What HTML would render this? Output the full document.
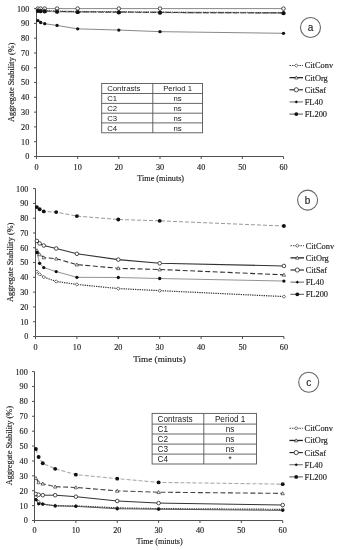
<!DOCTYPE html>
<html><head><meta charset="utf-8"><title>Aggregate Stability</title>
<style>
html,body{margin:0;padding:0;background:#fff;}
body{width:338px;height:550px;overflow:hidden;}
svg{display:block;filter:blur(0.3px);}
.tk{font-family:"Liberation Serif", serif;font-size:8.2px;fill:#222;stroke:#222;stroke-width:0.15px;}
.tb{font-family:"Liberation Sans", sans-serif;font-size:7.6px;fill:#1a1a1a;}
.lbl{font-family:"Liberation Sans", sans-serif;font-size:10px;fill:#222;stroke:#222;stroke-width:0.15px;}
</style></head>
<body>
<svg width="338" height="550" viewBox="0 0 338 550">
<rect width="338" height="550" fill="#fff"/>
<path d="M36.50 8.60V156.50H283.50" fill="none" stroke="#505050" stroke-width="1"/>
<path d="M34.00 156.50H36.50" stroke="#505050" stroke-width="1"/>
<text x="29.30" y="159.40" text-anchor="end" class="tk">0</text>
<path d="M34.00 141.71H36.50" stroke="#505050" stroke-width="1"/>
<text x="29.30" y="144.61" text-anchor="end" class="tk">10</text>
<path d="M34.00 126.92H36.50" stroke="#505050" stroke-width="1"/>
<text x="29.30" y="129.82" text-anchor="end" class="tk">20</text>
<path d="M34.00 112.13H36.50" stroke="#505050" stroke-width="1"/>
<text x="29.30" y="115.03" text-anchor="end" class="tk">30</text>
<path d="M34.00 97.34H36.50" stroke="#505050" stroke-width="1"/>
<text x="29.30" y="100.24" text-anchor="end" class="tk">40</text>
<path d="M34.00 82.55H36.50" stroke="#505050" stroke-width="1"/>
<text x="29.30" y="85.45" text-anchor="end" class="tk">50</text>
<path d="M34.00 67.76H36.50" stroke="#505050" stroke-width="1"/>
<text x="29.30" y="70.66" text-anchor="end" class="tk">60</text>
<path d="M34.00 52.97H36.50" stroke="#505050" stroke-width="1"/>
<text x="29.30" y="55.87" text-anchor="end" class="tk">70</text>
<path d="M34.00 38.18H36.50" stroke="#505050" stroke-width="1"/>
<text x="29.30" y="41.08" text-anchor="end" class="tk">80</text>
<path d="M34.00 23.39H36.50" stroke="#505050" stroke-width="1"/>
<text x="29.30" y="26.29" text-anchor="end" class="tk">90</text>
<path d="M34.00 8.60H36.50" stroke="#505050" stroke-width="1"/>
<text x="29.30" y="11.50" text-anchor="end" class="tk">100</text>
<path d="M36.50 156.50V159.00" stroke="#505050" stroke-width="1"/>
<text x="36.50" y="169.50" text-anchor="middle" class="tk">0</text>
<path d="M77.67 156.50V159.00" stroke="#505050" stroke-width="1"/>
<text x="77.67" y="169.50" text-anchor="middle" class="tk">10</text>
<path d="M118.83 156.50V159.00" stroke="#505050" stroke-width="1"/>
<text x="118.83" y="169.50" text-anchor="middle" class="tk">20</text>
<path d="M160.00 156.50V159.00" stroke="#505050" stroke-width="1"/>
<text x="160.00" y="169.50" text-anchor="middle" class="tk">30</text>
<path d="M201.17 156.50V159.00" stroke="#505050" stroke-width="1"/>
<text x="201.17" y="169.50" text-anchor="middle" class="tk">40</text>
<path d="M242.33 156.50V159.00" stroke="#505050" stroke-width="1"/>
<text x="242.33" y="169.50" text-anchor="middle" class="tk">50</text>
<path d="M283.50 156.50V159.00" stroke="#505050" stroke-width="1"/>
<text x="283.50" y="169.50" text-anchor="middle" class="tk">60</text>
<text transform="translate(13.90 82.30) rotate(-90)" text-anchor="middle" class="tk" style="font-size:8.3px">Aggregate Stability (%)</text>
<text x="160.70" y="180.50" text-anchor="middle" class="tk" style="font-size:8.2px">Time (minuts)</text>
<polyline points="37.86,8.60 40.62,8.60 44.73,8.60 57.08,8.60 77.67,8.60 118.83,8.60 160.00,8.60 283.50,8.60" fill="none" stroke="#888" stroke-width="1.0"/>
<polyline points="37.86,10.08 40.62,10.37 44.73,10.67 57.08,10.97 77.67,11.41 118.83,11.71 160.00,12.00 283.50,12.59" fill="none" stroke="#555" stroke-width="1.0" stroke-dasharray="1.2,1"/>
<polyline points="37.86,10.52 40.62,10.82 44.73,11.11 57.08,11.41 77.67,11.85 118.83,12.15 160.00,12.45 283.50,12.89" fill="none" stroke="#333" stroke-width="1.2" stroke-dasharray="6,1.5"/>
<polyline points="37.86,10.97 40.62,11.26 44.73,11.56 57.08,11.85 77.67,12.15 118.83,12.45 160.00,12.74 283.50,13.18" fill="none" stroke="#777" stroke-width="0.8" stroke-dasharray="3,1.5,1,1.5"/>
<polyline points="37.86,20.58 40.62,22.50 44.73,23.69 57.08,25.46 77.67,28.86 118.83,30.05 160.00,31.67 283.50,33.30" fill="none" stroke="#888" stroke-width="1.0"/>
<circle cx="37.86" cy="8.60" r="1.8" fill="#fff" stroke="#222" stroke-width="0.8"/>
<circle cx="40.62" cy="8.60" r="1.8" fill="#fff" stroke="#222" stroke-width="0.8"/>
<circle cx="44.73" cy="8.60" r="1.8" fill="#fff" stroke="#222" stroke-width="0.8"/>
<circle cx="57.08" cy="8.60" r="1.8" fill="#fff" stroke="#222" stroke-width="0.8"/>
<circle cx="77.67" cy="8.60" r="1.8" fill="#fff" stroke="#222" stroke-width="0.8"/>
<circle cx="118.83" cy="8.60" r="1.8" fill="#fff" stroke="#222" stroke-width="0.8"/>
<circle cx="160.00" cy="8.60" r="1.8" fill="#fff" stroke="#222" stroke-width="0.8"/>
<circle cx="283.50" cy="8.60" r="1.8" fill="#fff" stroke="#222" stroke-width="0.8"/>
<path d="M37.86 8.38L39.56 10.08L37.86 11.78L36.16 10.08Z" fill="#fff" stroke="#333" stroke-width="0.7"/>
<path d="M40.62 8.67L42.32 10.37L40.62 12.07L38.92 10.37Z" fill="#fff" stroke="#333" stroke-width="0.7"/>
<path d="M44.73 8.97L46.43 10.67L44.73 12.37L43.03 10.67Z" fill="#fff" stroke="#333" stroke-width="0.7"/>
<path d="M57.08 9.27L58.78 10.97L57.08 12.67L55.38 10.97Z" fill="#fff" stroke="#333" stroke-width="0.7"/>
<path d="M77.67 9.71L79.37 11.41L77.67 13.11L75.97 11.41Z" fill="#fff" stroke="#333" stroke-width="0.7"/>
<path d="M118.83 10.01L120.53 11.71L118.83 13.41L117.13 11.71Z" fill="#fff" stroke="#333" stroke-width="0.7"/>
<path d="M160.00 10.30L161.70 12.00L160.00 13.70L158.30 12.00Z" fill="#fff" stroke="#333" stroke-width="0.7"/>
<path d="M283.50 10.89L285.20 12.59L283.50 14.29L281.80 12.59Z" fill="#fff" stroke="#333" stroke-width="0.7"/>
<path d="M37.86 8.82L39.56 11.88L36.16 11.88Z" fill="#fff" stroke="#333" stroke-width="0.7"/>
<path d="M40.62 9.12L42.32 12.18L38.92 12.18Z" fill="#fff" stroke="#333" stroke-width="0.7"/>
<path d="M44.73 9.41L46.43 12.47L43.03 12.47Z" fill="#fff" stroke="#333" stroke-width="0.7"/>
<path d="M57.08 9.71L58.78 12.77L55.38 12.77Z" fill="#fff" stroke="#333" stroke-width="0.7"/>
<path d="M77.67 10.15L79.37 13.21L75.97 13.21Z" fill="#fff" stroke="#333" stroke-width="0.7"/>
<path d="M118.83 10.45L120.53 13.51L117.13 13.51Z" fill="#fff" stroke="#333" stroke-width="0.7"/>
<path d="M160.00 10.75L161.70 13.81L158.30 13.81Z" fill="#fff" stroke="#333" stroke-width="0.7"/>
<path d="M283.50 11.19L285.20 14.25L281.80 14.25Z" fill="#fff" stroke="#333" stroke-width="0.7"/>
<circle cx="37.86" cy="10.97" r="1.95" fill="#111"/>
<circle cx="40.62" cy="11.26" r="1.95" fill="#111"/>
<circle cx="44.73" cy="11.56" r="1.95" fill="#111"/>
<circle cx="57.08" cy="11.85" r="1.95" fill="#111"/>
<circle cx="77.67" cy="12.15" r="1.95" fill="#111"/>
<circle cx="118.83" cy="12.45" r="1.95" fill="#111"/>
<circle cx="160.00" cy="12.74" r="1.95" fill="#111"/>
<circle cx="283.50" cy="13.18" r="1.95" fill="#111"/>
<circle cx="37.86" cy="20.58" r="1.65" fill="#111"/>
<circle cx="40.62" cy="22.50" r="1.65" fill="#111"/>
<circle cx="44.73" cy="23.69" r="1.65" fill="#111"/>
<circle cx="57.08" cy="25.46" r="1.65" fill="#111"/>
<circle cx="77.67" cy="28.86" r="1.65" fill="#111"/>
<circle cx="118.83" cy="30.05" r="1.65" fill="#111"/>
<circle cx="160.00" cy="31.67" r="1.65" fill="#111"/>
<circle cx="283.50" cy="33.30" r="1.65" fill="#111"/>
<circle cx="310.5" cy="27.5" r="10.0" fill="none" stroke="#666" stroke-width="1.1"/>
<text x="310.5" y="31.1" text-anchor="middle" class="lbl">a</text>
<path d="M289.50 65.50H303.00" stroke="#444" stroke-width="1.0" stroke-dasharray="1.5,1"/>
<path d="M296.30 63.80L298.00 65.50L296.30 67.20L294.60 65.50Z" fill="#fff" stroke="#333" stroke-width="0.7"/>
<text x="304.70" y="68.40" class="tk" style="font-size:8.4px">CitConv</text>
<path d="M289.50 77.65H303.00" stroke="#222" stroke-width="1.3"/>
<path d="M296.30 75.95L298.00 79.01L294.60 79.01Z" fill="#fff" stroke="#333" stroke-width="0.7"/>
<text x="304.70" y="80.55" class="tk" style="font-size:8.4px">CitOrg</text>
<path d="M289.50 89.80H303.00" stroke="#222" stroke-width="1.1"/>
<circle cx="296.30" cy="89.80" r="2.1" fill="#fff" stroke="#222" stroke-width="0.8"/>
<text x="304.70" y="92.70" class="tk" style="font-size:8.4px">CitSaf</text>
<path d="M289.50 101.95H303.00" stroke="#555" stroke-width="0.9"/>
<path d="M296.30 100.35L297.90 101.95L296.30 103.55L294.70 101.95Z" fill="#111"/>
<text x="304.70" y="104.85" class="tk" style="font-size:8.4px">FL40</text>
<path d="M289.50 114.10H303.00" stroke="#444" stroke-width="0.9"/>
<circle cx="296.30" cy="114.10" r="1.9" fill="#111"/>
<text x="304.70" y="117.00" class="tk" style="font-size:8.4px">FL200</text>
<rect x="101.70" y="83.50" width="100.80" height="49.30" fill="#fff" stroke="#555" stroke-width="0.9"/>
<path d="M101.70 93.50H202.50" stroke="#555" stroke-width="0.9"/>
<path d="M101.70 103.40H202.50" stroke="#555" stroke-width="0.9"/>
<path d="M101.70 113.20H202.50" stroke="#555" stroke-width="0.9"/>
<path d="M101.70 122.90H202.50" stroke="#555" stroke-width="0.9"/>
<path d="M152.80 83.50V132.80" stroke="#555" stroke-width="0.9"/>
<text x="107.20" y="91.29" class="tb" style="font-size:7.75px">Contrasts</text>
<text x="177.65" y="91.29" text-anchor="middle" class="tb" style="font-size:7.75px">Period 1</text>
<text x="107.20" y="101.24" class="tb" style="font-size:7.75px">C1</text>
<text x="177.65" y="101.24" text-anchor="middle" class="tb" style="font-size:7.75px">ns</text>
<text x="107.20" y="111.09" class="tb" style="font-size:7.75px">C2</text>
<text x="177.65" y="111.09" text-anchor="middle" class="tb" style="font-size:7.75px">ns</text>
<text x="107.20" y="120.84" class="tb" style="font-size:7.75px">C3</text>
<text x="177.65" y="120.84" text-anchor="middle" class="tb" style="font-size:7.75px">ns</text>
<text x="107.20" y="130.64" class="tb" style="font-size:7.75px">C4</text>
<text x="177.65" y="130.64" text-anchor="middle" class="tb" style="font-size:7.75px">ns</text>
<path d="M35.50 188.60V336.50H283.90" fill="none" stroke="#505050" stroke-width="1"/>
<path d="M33.00 336.50H35.50" stroke="#505050" stroke-width="1"/>
<text x="28.40" y="339.40" text-anchor="end" class="tk">0</text>
<path d="M33.00 321.71H35.50" stroke="#505050" stroke-width="1"/>
<text x="28.40" y="324.61" text-anchor="end" class="tk">10</text>
<path d="M33.00 306.92H35.50" stroke="#505050" stroke-width="1"/>
<text x="28.40" y="309.82" text-anchor="end" class="tk">20</text>
<path d="M33.00 292.13H35.50" stroke="#505050" stroke-width="1"/>
<text x="28.40" y="295.03" text-anchor="end" class="tk">30</text>
<path d="M33.00 277.34H35.50" stroke="#505050" stroke-width="1"/>
<text x="28.40" y="280.24" text-anchor="end" class="tk">40</text>
<path d="M33.00 262.55H35.50" stroke="#505050" stroke-width="1"/>
<text x="28.40" y="265.45" text-anchor="end" class="tk">50</text>
<path d="M33.00 247.76H35.50" stroke="#505050" stroke-width="1"/>
<text x="28.40" y="250.66" text-anchor="end" class="tk">60</text>
<path d="M33.00 232.97H35.50" stroke="#505050" stroke-width="1"/>
<text x="28.40" y="235.87" text-anchor="end" class="tk">70</text>
<path d="M33.00 218.18H35.50" stroke="#505050" stroke-width="1"/>
<text x="28.40" y="221.08" text-anchor="end" class="tk">80</text>
<path d="M33.00 203.39H35.50" stroke="#505050" stroke-width="1"/>
<text x="28.40" y="206.29" text-anchor="end" class="tk">90</text>
<path d="M33.00 188.60H35.50" stroke="#505050" stroke-width="1"/>
<text x="28.40" y="191.50" text-anchor="end" class="tk">100</text>
<path d="M35.50 336.50V339.00" stroke="#505050" stroke-width="1"/>
<text x="35.50" y="350.10" text-anchor="middle" class="tk">0</text>
<path d="M76.90 336.50V339.00" stroke="#505050" stroke-width="1"/>
<text x="76.90" y="350.10" text-anchor="middle" class="tk">10</text>
<path d="M118.30 336.50V339.00" stroke="#505050" stroke-width="1"/>
<text x="118.30" y="350.10" text-anchor="middle" class="tk">20</text>
<path d="M159.70 336.50V339.00" stroke="#505050" stroke-width="1"/>
<text x="159.70" y="350.10" text-anchor="middle" class="tk">30</text>
<path d="M201.10 336.50V339.00" stroke="#505050" stroke-width="1"/>
<text x="201.10" y="350.10" text-anchor="middle" class="tk">40</text>
<path d="M242.50 336.50V339.00" stroke="#505050" stroke-width="1"/>
<text x="242.50" y="350.10" text-anchor="middle" class="tk">50</text>
<path d="M283.90 336.50V339.00" stroke="#505050" stroke-width="1"/>
<text x="283.90" y="350.10" text-anchor="middle" class="tk">60</text>
<text transform="translate(12.50 262.30) rotate(-90)" text-anchor="middle" class="tk" style="font-size:8.3px">Aggregate Stability (%)</text>
<text x="159.50" y="361.70" text-anchor="middle" class="tk" style="font-size:9.2px">Time (minuts)</text>
<polyline points="36.87,207.09 39.64,209.31 43.78,211.38 56.20,212.12 76.90,216.11 118.30,219.51 159.70,220.84 283.90,226.02" fill="none" stroke="#999" stroke-width="1.0" stroke-dasharray="4,2"/>
<polyline points="36.87,240.96 39.64,243.47 43.78,245.54 56.20,248.50 76.90,253.82 118.30,259.59 159.70,263.29 283.90,265.95" fill="none" stroke="#333" stroke-width="1.1"/>
<polyline points="36.87,250.42 39.64,254.42 43.78,257.52 56.20,258.70 76.90,264.62 118.30,268.32 159.70,269.50 283.90,274.83" fill="none" stroke="#333" stroke-width="1.1" stroke-dasharray="5,2.5"/>
<polyline points="36.87,252.49 39.64,263.29 43.78,267.58 56.20,271.57 76.90,277.34 118.30,277.49 159.70,278.52 283.90,281.04" fill="none" stroke="#777" stroke-width="0.8"/>
<polyline points="36.87,271.72 39.64,274.38 43.78,277.04 56.20,281.48 76.90,284.44 118.30,288.58 159.70,290.65 283.90,296.57" fill="none" stroke="#333" stroke-width="1.2" stroke-dasharray="1.3,1"/>
<circle cx="36.87" cy="207.09" r="1.95" fill="#111"/>
<circle cx="39.64" cy="209.31" r="1.95" fill="#111"/>
<circle cx="43.78" cy="211.38" r="1.95" fill="#111"/>
<circle cx="56.20" cy="212.12" r="1.95" fill="#111"/>
<circle cx="76.90" cy="216.11" r="1.95" fill="#111"/>
<circle cx="118.30" cy="219.51" r="1.95" fill="#111"/>
<circle cx="159.70" cy="220.84" r="1.95" fill="#111"/>
<circle cx="283.90" cy="226.02" r="1.95" fill="#111"/>
<circle cx="36.87" cy="240.96" r="1.8" fill="#fff" stroke="#222" stroke-width="0.8"/>
<circle cx="39.64" cy="243.47" r="1.8" fill="#fff" stroke="#222" stroke-width="0.8"/>
<circle cx="43.78" cy="245.54" r="1.8" fill="#fff" stroke="#222" stroke-width="0.8"/>
<circle cx="56.20" cy="248.50" r="1.8" fill="#fff" stroke="#222" stroke-width="0.8"/>
<circle cx="76.90" cy="253.82" r="1.8" fill="#fff" stroke="#222" stroke-width="0.8"/>
<circle cx="118.30" cy="259.59" r="1.8" fill="#fff" stroke="#222" stroke-width="0.8"/>
<circle cx="159.70" cy="263.29" r="1.8" fill="#fff" stroke="#222" stroke-width="0.8"/>
<circle cx="283.90" cy="265.95" r="1.8" fill="#fff" stroke="#222" stroke-width="0.8"/>
<path d="M36.87 248.72L38.57 251.78L35.17 251.78Z" fill="#fff" stroke="#333" stroke-width="0.7"/>
<path d="M39.64 252.72L41.34 255.78L37.94 255.78Z" fill="#fff" stroke="#333" stroke-width="0.7"/>
<path d="M43.78 255.82L45.48 258.88L42.08 258.88Z" fill="#fff" stroke="#333" stroke-width="0.7"/>
<path d="M56.20 257.00L57.90 260.06L54.50 260.06Z" fill="#fff" stroke="#333" stroke-width="0.7"/>
<path d="M76.90 262.92L78.60 265.98L75.20 265.98Z" fill="#fff" stroke="#333" stroke-width="0.7"/>
<path d="M118.30 266.62L120.00 269.68L116.60 269.68Z" fill="#fff" stroke="#333" stroke-width="0.7"/>
<path d="M159.70 267.80L161.40 270.86L158.00 270.86Z" fill="#fff" stroke="#333" stroke-width="0.7"/>
<path d="M283.90 273.13L285.60 276.19L282.20 276.19Z" fill="#fff" stroke="#333" stroke-width="0.7"/>
<circle cx="36.87" cy="252.49" r="1.65" fill="#111"/>
<circle cx="39.64" cy="263.29" r="1.65" fill="#111"/>
<circle cx="43.78" cy="267.58" r="1.65" fill="#111"/>
<circle cx="56.20" cy="271.57" r="1.65" fill="#111"/>
<circle cx="76.90" cy="277.34" r="1.65" fill="#111"/>
<circle cx="118.30" cy="277.49" r="1.65" fill="#111"/>
<circle cx="159.70" cy="278.52" r="1.65" fill="#111"/>
<circle cx="283.90" cy="281.04" r="1.65" fill="#111"/>
<path d="M36.87 270.02L38.57 271.72L36.87 273.42L35.17 271.72Z" fill="#fff" stroke="#333" stroke-width="0.7"/>
<path d="M39.64 272.68L41.34 274.38L39.64 276.08L37.94 274.38Z" fill="#fff" stroke="#333" stroke-width="0.7"/>
<path d="M43.78 275.34L45.48 277.04L43.78 278.74L42.08 277.04Z" fill="#fff" stroke="#333" stroke-width="0.7"/>
<path d="M56.20 279.78L57.90 281.48L56.20 283.18L54.50 281.48Z" fill="#fff" stroke="#333" stroke-width="0.7"/>
<path d="M76.90 282.74L78.60 284.44L76.90 286.14L75.20 284.44Z" fill="#fff" stroke="#333" stroke-width="0.7"/>
<path d="M118.30 286.88L120.00 288.58L118.30 290.28L116.60 288.58Z" fill="#fff" stroke="#333" stroke-width="0.7"/>
<path d="M159.70 288.95L161.40 290.65L159.70 292.35L158.00 290.65Z" fill="#fff" stroke="#333" stroke-width="0.7"/>
<path d="M283.90 294.87L285.60 296.57L283.90 298.27L282.20 296.57Z" fill="#fff" stroke="#333" stroke-width="0.7"/>
<circle cx="307.6" cy="200.1" r="10.0" fill="none" stroke="#666" stroke-width="1.1"/>
<text x="307.6" y="203.7" text-anchor="middle" class="lbl">b</text>
<path d="M290.50 245.70H304.00" stroke="#444" stroke-width="1.0" stroke-dasharray="1.5,1"/>
<path d="M297.30 244.00L299.00 245.70L297.30 247.40L295.60 245.70Z" fill="#fff" stroke="#333" stroke-width="0.7"/>
<text x="305.70" y="248.60" class="tk" style="font-size:8.4px">CitConv</text>
<path d="M290.50 257.85H304.00" stroke="#222" stroke-width="1.3"/>
<path d="M297.30 256.15L299.00 259.21L295.60 259.21Z" fill="#fff" stroke="#333" stroke-width="0.7"/>
<text x="305.70" y="260.75" class="tk" style="font-size:8.4px">CitOrg</text>
<path d="M290.50 270.00H304.00" stroke="#222" stroke-width="1.1"/>
<circle cx="297.30" cy="270.00" r="2.1" fill="#fff" stroke="#222" stroke-width="0.8"/>
<text x="305.70" y="272.90" class="tk" style="font-size:8.4px">CitSaf</text>
<path d="M290.50 282.15H304.00" stroke="#555" stroke-width="0.9"/>
<path d="M297.30 280.55L298.90 282.15L297.30 283.75L295.70 282.15Z" fill="#111"/>
<text x="305.70" y="285.05" class="tk" style="font-size:8.4px">FL40</text>
<path d="M290.50 294.30H304.00" stroke="#444" stroke-width="0.9"/>
<circle cx="297.30" cy="294.30" r="1.9" fill="#111"/>
<text x="305.70" y="297.20" class="tk" style="font-size:8.4px">FL200</text>
<path d="M34.50 371.60V520.50H282.70" fill="none" stroke="#505050" stroke-width="1"/>
<path d="M32.00 520.50H34.50" stroke="#505050" stroke-width="1"/>
<text x="27.80" y="523.40" text-anchor="end" class="tk">0</text>
<path d="M32.00 505.61H34.50" stroke="#505050" stroke-width="1"/>
<text x="27.80" y="508.51" text-anchor="end" class="tk">10</text>
<path d="M32.00 490.72H34.50" stroke="#505050" stroke-width="1"/>
<text x="27.80" y="493.62" text-anchor="end" class="tk">20</text>
<path d="M32.00 475.83H34.50" stroke="#505050" stroke-width="1"/>
<text x="27.80" y="478.73" text-anchor="end" class="tk">30</text>
<path d="M32.00 460.94H34.50" stroke="#505050" stroke-width="1"/>
<text x="27.80" y="463.84" text-anchor="end" class="tk">40</text>
<path d="M32.00 446.05H34.50" stroke="#505050" stroke-width="1"/>
<text x="27.80" y="448.95" text-anchor="end" class="tk">50</text>
<path d="M32.00 431.16H34.50" stroke="#505050" stroke-width="1"/>
<text x="27.80" y="434.06" text-anchor="end" class="tk">60</text>
<path d="M32.00 416.27H34.50" stroke="#505050" stroke-width="1"/>
<text x="27.80" y="419.17" text-anchor="end" class="tk">70</text>
<path d="M32.00 401.38H34.50" stroke="#505050" stroke-width="1"/>
<text x="27.80" y="404.28" text-anchor="end" class="tk">80</text>
<path d="M32.00 386.49H34.50" stroke="#505050" stroke-width="1"/>
<text x="27.80" y="389.39" text-anchor="end" class="tk">90</text>
<path d="M32.00 371.60H34.50" stroke="#505050" stroke-width="1"/>
<text x="27.80" y="374.50" text-anchor="end" class="tk">100</text>
<path d="M34.50 520.50V523.00" stroke="#505050" stroke-width="1"/>
<text x="34.50" y="533.20" text-anchor="middle" class="tk">0</text>
<path d="M75.87 520.50V523.00" stroke="#505050" stroke-width="1"/>
<text x="75.87" y="533.20" text-anchor="middle" class="tk">10</text>
<path d="M117.23 520.50V523.00" stroke="#505050" stroke-width="1"/>
<text x="117.23" y="533.20" text-anchor="middle" class="tk">20</text>
<path d="M158.60 520.50V523.00" stroke="#505050" stroke-width="1"/>
<text x="158.60" y="533.20" text-anchor="middle" class="tk">30</text>
<path d="M199.97 520.50V523.00" stroke="#505050" stroke-width="1"/>
<text x="199.97" y="533.20" text-anchor="middle" class="tk">40</text>
<path d="M241.33 520.50V523.00" stroke="#505050" stroke-width="1"/>
<text x="241.33" y="533.20" text-anchor="middle" class="tk">50</text>
<path d="M282.70 520.50V523.00" stroke="#505050" stroke-width="1"/>
<text x="282.70" y="533.20" text-anchor="middle" class="tk">60</text>
<text transform="translate(11.70 445.60) rotate(-90)" text-anchor="middle" class="tk" style="font-size:8.3px">Aggregate Stability (%)</text>
<text x="159.50" y="544.10" text-anchor="middle" class="tk" style="font-size:8.1px">Time (minuts)</text>
<polyline points="35.87,449.03 38.64,457.07 42.77,463.32 55.18,468.83 75.87,474.64 117.23,478.66 158.60,482.38 282.70,484.17" fill="none" stroke="#aaa" stroke-width="1.1" stroke-dasharray="4,2"/>
<polyline points="35.87,478.21 38.64,482.38 42.77,483.72 55.18,486.70 75.87,487.44 117.23,490.87 158.60,492.21 282.70,493.40" fill="none" stroke="#444" stroke-width="1.1" stroke-dasharray="5,2.5"/>
<polyline points="35.87,494.00 38.64,494.74 42.77,495.19 55.18,495.19 75.87,496.68 117.23,500.99 158.60,503.08 282.70,505.01" fill="none" stroke="#333" stroke-width="1.0"/>
<polyline points="35.87,497.42 38.64,501.89 42.77,504.12 55.18,505.61 75.87,505.91 117.23,507.84 158.60,508.59 282.70,509.33" fill="none" stroke="#333" stroke-width="1.2" stroke-dasharray="1.3,1"/>
<polyline points="35.87,499.65 38.64,503.82 42.77,504.12 55.18,505.91 75.87,506.35 117.23,508.74 158.60,509.18 282.70,510.37" fill="none" stroke="#555" stroke-width="1.0"/>
<circle cx="35.87" cy="449.03" r="1.95" fill="#111"/>
<circle cx="38.64" cy="457.07" r="1.95" fill="#111"/>
<circle cx="42.77" cy="463.32" r="1.95" fill="#111"/>
<circle cx="55.18" cy="468.83" r="1.95" fill="#111"/>
<circle cx="75.87" cy="474.64" r="1.95" fill="#111"/>
<circle cx="117.23" cy="478.66" r="1.95" fill="#111"/>
<circle cx="158.60" cy="482.38" r="1.95" fill="#111"/>
<circle cx="282.70" cy="484.17" r="1.95" fill="#111"/>
<path d="M35.87 476.51L37.57 479.57L34.17 479.57Z" fill="#fff" stroke="#333" stroke-width="0.7"/>
<path d="M38.64 480.68L40.34 483.74L36.94 483.74Z" fill="#fff" stroke="#333" stroke-width="0.7"/>
<path d="M42.77 482.02L44.47 485.08L41.07 485.08Z" fill="#fff" stroke="#333" stroke-width="0.7"/>
<path d="M55.18 485.00L56.88 488.06L53.48 488.06Z" fill="#fff" stroke="#333" stroke-width="0.7"/>
<path d="M75.87 485.74L77.57 488.80L74.17 488.80Z" fill="#fff" stroke="#333" stroke-width="0.7"/>
<path d="M117.23 489.17L118.93 492.23L115.53 492.23Z" fill="#fff" stroke="#333" stroke-width="0.7"/>
<path d="M158.60 490.51L160.30 493.57L156.90 493.57Z" fill="#fff" stroke="#333" stroke-width="0.7"/>
<path d="M282.70 491.70L284.40 494.76L281.00 494.76Z" fill="#fff" stroke="#333" stroke-width="0.7"/>
<circle cx="35.87" cy="494.00" r="1.8" fill="#fff" stroke="#222" stroke-width="0.8"/>
<circle cx="38.64" cy="494.74" r="1.8" fill="#fff" stroke="#222" stroke-width="0.8"/>
<circle cx="42.77" cy="495.19" r="1.8" fill="#fff" stroke="#222" stroke-width="0.8"/>
<circle cx="55.18" cy="495.19" r="1.8" fill="#fff" stroke="#222" stroke-width="0.8"/>
<circle cx="75.87" cy="496.68" r="1.8" fill="#fff" stroke="#222" stroke-width="0.8"/>
<circle cx="117.23" cy="500.99" r="1.8" fill="#fff" stroke="#222" stroke-width="0.8"/>
<circle cx="158.60" cy="503.08" r="1.8" fill="#fff" stroke="#222" stroke-width="0.8"/>
<circle cx="282.70" cy="505.01" r="1.8" fill="#fff" stroke="#222" stroke-width="0.8"/>
<path d="M35.87 495.72L37.57 497.42L35.87 499.12L34.17 497.42Z" fill="#fff" stroke="#333" stroke-width="0.7"/>
<path d="M38.64 500.19L40.34 501.89L38.64 503.59L36.94 501.89Z" fill="#fff" stroke="#333" stroke-width="0.7"/>
<path d="M42.77 502.42L44.47 504.12L42.77 505.82L41.07 504.12Z" fill="#fff" stroke="#333" stroke-width="0.7"/>
<path d="M55.18 503.91L56.88 505.61L55.18 507.31L53.48 505.61Z" fill="#fff" stroke="#333" stroke-width="0.7"/>
<path d="M75.87 504.21L77.57 505.91L75.87 507.61L74.17 505.91Z" fill="#fff" stroke="#333" stroke-width="0.7"/>
<path d="M117.23 506.14L118.93 507.84L117.23 509.54L115.53 507.84Z" fill="#fff" stroke="#333" stroke-width="0.7"/>
<path d="M158.60 506.89L160.30 508.59L158.60 510.29L156.90 508.59Z" fill="#fff" stroke="#333" stroke-width="0.7"/>
<path d="M282.70 507.63L284.40 509.33L282.70 511.03L281.00 509.33Z" fill="#fff" stroke="#333" stroke-width="0.7"/>
<circle cx="35.87" cy="499.65" r="1.65" fill="#111"/>
<circle cx="38.64" cy="503.82" r="1.65" fill="#111"/>
<circle cx="42.77" cy="504.12" r="1.65" fill="#111"/>
<circle cx="55.18" cy="505.91" r="1.65" fill="#111"/>
<circle cx="75.87" cy="506.35" r="1.65" fill="#111"/>
<circle cx="117.23" cy="508.74" r="1.65" fill="#111"/>
<circle cx="158.60" cy="509.18" r="1.65" fill="#111"/>
<circle cx="282.70" cy="510.37" r="1.65" fill="#111"/>
<circle cx="308.7" cy="382.2" r="10.0" fill="none" stroke="#666" stroke-width="1.1"/>
<text x="308.7" y="385.8" text-anchor="middle" class="lbl">c</text>
<path d="M289.40 428.30H302.90" stroke="#444" stroke-width="1.0" stroke-dasharray="1.5,1"/>
<path d="M296.20 426.60L297.90 428.30L296.20 430.00L294.50 428.30Z" fill="#fff" stroke="#333" stroke-width="0.7"/>
<text x="304.60" y="431.20" class="tk" style="font-size:8.4px">CitConv</text>
<path d="M289.40 440.45H302.90" stroke="#222" stroke-width="1.3"/>
<path d="M296.20 438.75L297.90 441.81L294.50 441.81Z" fill="#fff" stroke="#333" stroke-width="0.7"/>
<text x="304.60" y="443.35" class="tk" style="font-size:8.4px">CitOrg</text>
<path d="M289.40 452.60H302.90" stroke="#222" stroke-width="1.1"/>
<circle cx="296.20" cy="452.60" r="2.1" fill="#fff" stroke="#222" stroke-width="0.8"/>
<text x="304.60" y="455.50" class="tk" style="font-size:8.4px">CitSaf</text>
<path d="M289.40 464.75H302.90" stroke="#555" stroke-width="0.9"/>
<path d="M296.20 463.15L297.80 464.75L296.20 466.35L294.60 464.75Z" fill="#111"/>
<text x="304.60" y="467.65" class="tk" style="font-size:8.4px">FL40</text>
<path d="M289.40 476.90H302.90" stroke="#444" stroke-width="0.9"/>
<circle cx="296.20" cy="476.90" r="1.9" fill="#111"/>
<text x="304.60" y="479.80" class="tk" style="font-size:8.4px">FL200</text>
<rect x="152.10" y="413.40" width="104.40" height="50.60" fill="#fff" stroke="#555" stroke-width="0.9"/>
<path d="M152.10 424.10H256.50" stroke="#555" stroke-width="0.9"/>
<path d="M152.10 434.00H256.50" stroke="#555" stroke-width="0.9"/>
<path d="M152.10 444.10H256.50" stroke="#555" stroke-width="0.9"/>
<path d="M152.10 454.10H256.50" stroke="#555" stroke-width="0.9"/>
<path d="M203.80 413.40V464.00" stroke="#555" stroke-width="0.9"/>
<text x="157.60" y="421.70" class="tb" style="font-size:8.2px">Contrasts</text>
<text x="230.15" y="421.70" text-anchor="middle" class="tb" style="font-size:8.2px">Period 1</text>
<text x="157.60" y="432.00" class="tb" style="font-size:8.2px">C1</text>
<text x="230.15" y="432.00" text-anchor="middle" class="tb" style="font-size:8.2px">ns</text>
<text x="157.60" y="442.00" class="tb" style="font-size:8.2px">C2</text>
<text x="230.15" y="442.00" text-anchor="middle" class="tb" style="font-size:8.2px">ns</text>
<text x="157.60" y="452.05" class="tb" style="font-size:8.2px">C3</text>
<text x="230.15" y="452.05" text-anchor="middle" class="tb" style="font-size:8.2px">ns</text>
<text x="157.60" y="462.00" class="tb" style="font-size:8.2px">C4</text>
<text x="230.15" y="462.00" text-anchor="middle" class="tb" style="font-size:8.2px">*</text>
</svg>
</body></html>
